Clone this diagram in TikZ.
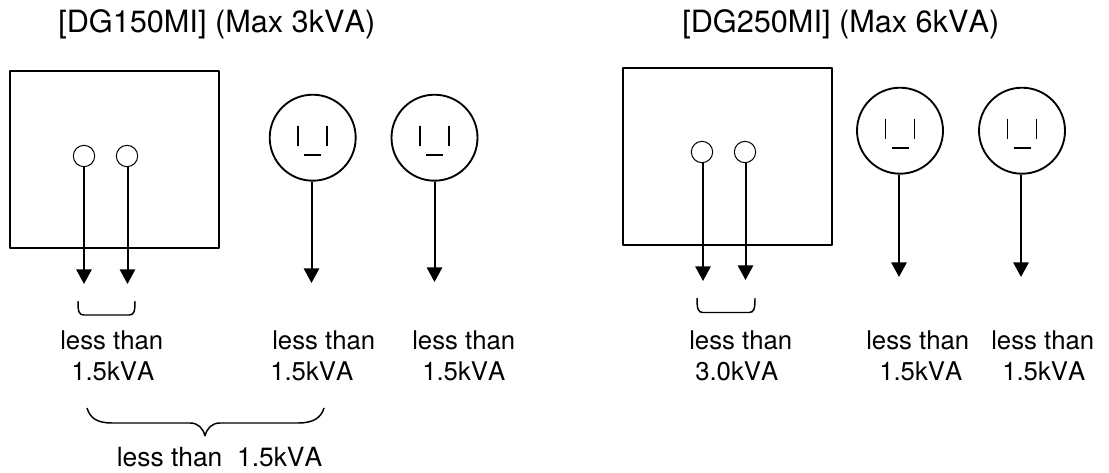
\documentclass[tikz,border=0pt]{standalone}
\usepackage{fontspec}
\setmainfont[Kerning=Off]{TeX Gyre Heros}
\usetikzlibrary{arrows.meta, positioning}

\begin{document}
\begin{tikzpicture}[
                x=0.75pt, y=-0.75pt,
                line join=bevel,
                bigboxnode/.style={shape=rectangle, draw=black, line width=1.5pt, minimum width=156.75pt, minimum height=133pt},
                socketnode/.style={shape=circle, draw=black, line width=1.4pt, minimum size=64.5pt, inner sep=0pt},
                holenode/.style={shape=circle, draw=black, line width=0.75pt, minimum size=16pt, inner sep=0pt},
                titlenode/.style={anchor=base west, inner sep=0pt, font=\fontsize{23}{27}\selectfont},
                textnode/.style={anchor=base west, inner sep=0pt, font=\fontsize{19.3}{23}\selectfont},
                powerline/.style={-{Triangle[length=11pt, width=11.5pt]}, line width=1.5pt},
                pinline/.style={line width=1.3pt},
                braceline/.style={line width=1.1pt}
                ]
                \useasboundingbox (0,0) rectangle (1109,472);

                %% Titles
                \node[titlenode] (titleA) at (58,32) {[DG150MI] (Max 3kVA)};
                \node[titlenode] (titleB) at (682,32) {[DG250MI] (Max 6kVA)};

                %% Boxes and holes
                \node[bigboxnode] (boxA) at (114.5,159.5) {};
                \node[bigboxnode] (boxB) at (727.5,156.8) {};
                \node[holenode] (holeA) at (84,156) {};
                \node[holenode] (holeB) at (127,156) {};
                \node[holenode] (holeC) at (702,152) {};
                \node[holenode] (holeD) at (745,152) {};

                %% Sockets
                \foreach \name/\x/\y in {sockA/312.7/137.7, sockB/434.5/137.7, sockC/900/130.7, sockD/1022/130.7} {
                    \node[socketnode] (\name) at (\x,\y) {};
                    \draw[pinline] ([shift={(-14.5,-12)}]\name.center) -- ++(0,20);
                    \draw[pinline] ([shift={(14.5,-12)}]\name.center) -- ++(0,20);
                    \draw[pinline] ([shift={(-8.5,17)}]\name.center) -- ++(17,0);
                }

                %% Arrows
                \foreach \from/\to/\x/\y in {holeA/endA/84/284, holeB/endB/127.5/284, sockA/endC/311.5/283, sockB/endD/434.5/282,
                                             holeC/endE/703/281, holeD/endF/745.5/280, sockC/endG/899/277, sockD/endH/1021/277} {
                    \coordinate (\to) at (\x,\y);
                    \draw[powerline] (\to |- \from.south) -- (\to);
                }

                %% Braces
                \draw[braceline] (78,301) .. controls (78,312) and (79,315) .. (84,315) -- (129,315) .. controls (134,315) and (135,312) .. (135,301);
                \draw[braceline] (697,298) .. controls (697,309) and (698,312.5) .. (703,312.5) -- (749,312.5) .. controls (754,312.5) and (755,309) .. (755,298);
                \draw[braceline] (87,408) .. controls (90,418) and (97,423) .. (112,423) -- (190,423) .. controls (198,423) and (203,428) .. (205,436)
                                 .. controls (207,428) and (212,423) .. (220,423) -- (298,423) .. controls (313,423) and (321,418) .. (324,408);

                %% Labels
                \foreach \name/\x/\y/\ltext in {lessA/60/349/less than, kvaA/71/380/1.5kVA, lessB/272/349/less than, kvaB/270/380/1.5kVA,
                                                lessC/412/349/less than, kvaC/422/380/1.5kVA, lessD/689/349/less than, kvaD/695/380/3.0kVA,
                                                lessE/866/349/less than, kvaE/879/380/1.5kVA, lessF/991/349/less than, kvaF/1002/380/1.5kVA} {
                    \node[textnode] (\name) at (\x,\y) {\ltext};
                }
                \node[textnode, font=\fontsize{19.8}{23}\selectfont] (total) at (116.5,466) {less than\ \ 1.5kVA};
\end{tikzpicture}
\end{document}
